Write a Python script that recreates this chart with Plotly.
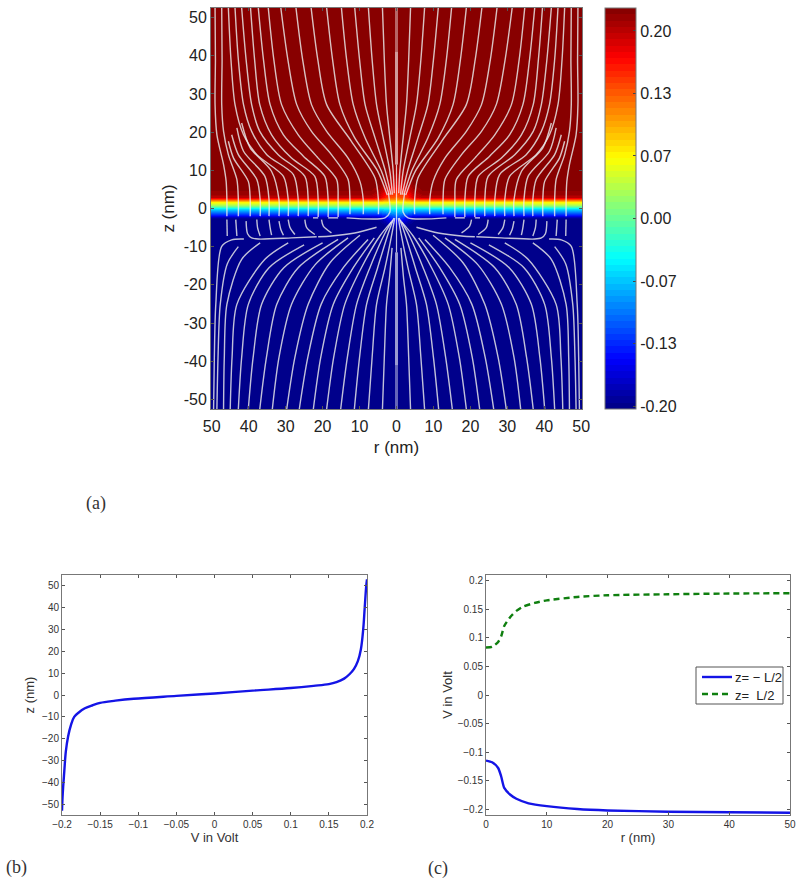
import plotly.graph_objects as go

FONT = "Liberation Sans"
TXT = "#222222"

# heatmap table, right half only (mirrored below)
HEAT_R = [0, 1.5, 3, 4.5, 7, 50]
HEAT_Z = [-52.5, -6, -4, -3, -2.4, -1.6, -0.8, -0.26, 0.6, 1.6, 2.4, 3.1, 4, 5, 6.5, 8.5, 12, 52.5]
HEAT_V = [
    [-.203, -.203, -.203, -.203, -.203, -.203],
    [-.200, -.200, -.203, -.203, -.203, -.203],
    [-.175, -.180, -.195, -.200, -.203, -.203],
    [-.145, -.155, -.180, -.195, -.200, -.200],
    [-.125, -.135, -.165, -.185, -.195, -.195],
    [-.100, -.110, -.130, -.140, -.140, -.140],
    [-.075, -.080, -.090, -.100, -.100, -.100],
    [-.050, -.052, -.055, -.060, -.060, -.060],
    [0.000, 0.002, 0.005, 0.010, 0.010, 0.010],
    [0.060, 0.062, 0.065, 0.070, 0.070, 0.070],
    [0.110, 0.115, 0.130, 0.145, 0.150, 0.150],
    [0.135, 0.140, 0.160, 0.185, 0.200, 0.200],
    [0.150, 0.155, 0.175, 0.198, 0.215, 0.215],
    [0.165, 0.170, 0.190, 0.210, 0.220, 0.220],
    [0.185, 0.190, 0.205, 0.218, 0.224, 0.224],
    [0.200, 0.205, 0.215, 0.224, 0.224, 0.224],
    [0.215, 0.220, 0.224, 0.224, 0.224, 0.224],
    [0.224, 0.224, 0.224, 0.224, 0.224, 0.224],
]

# streamlines, right half (r, z) - mirrored when drawn
UPPER_INNER = [
    ([3.8, 3.3, 2.7, 1.8, 0.9, 0.6], [52.5, 39, 27.2, 18.5, 9.8, 4]),
    ([7.6, 6.6, 5.4, 3.6, 1.8, 1.1], [52.5, 39, 27.2, 18.5, 9.8, 3.6]),
    ([11.3, 10, 8.5, 5.8, 3, 1.5], [52.5, 39, 27.2, 18.5, 9.8, 3.6]),
    ([14.9, 13.5, 11.7, 8.5, 4.1, 2], [52.5, 39, 27.2, 18.5, 9.8, 3.6]),
    ([18.9, 17.3, 15.3, 11.3, 5.1, 2.5], [52.5, 39, 27.2, 18.5, 9.8, 3.5]),
]
UPPER_STEMS = [
    ([23.1, 21.3, 18.9, 12.2, 5.8, 4.9, 4.9], [52.5, 39, 27.2, 17.6, 8, 2.3, -1.5]),
    ([27.2, 25.4, 23, 18.9, 13.1, 9.9, 9, 9], [52.5, 39, 27.2, 20.2, 13.2, 7.1, 2.3, -1.5]),
    ([31.3, 29.4, 27, 23, 17.6, 13.1, 12.6, 12.6], [52.5, 39, 27.2, 20.2, 14.1, 7.6, 2.3, -1.5]),
    ([34.7, 33.2, 31.1, 26.6, 21.2, 16.2, 15.8, 15.8], [52.5, 39, 27.2, 19.3, 13.2, 7.6, 2.3, -2.2]),
    ([37.4, 36, 34.2, 30.6, 25.2, 19.4, 18.5, 18.5], [52.5, 39, 27.2, 19.3, 13.7, 8.4, 2.3, -2.2]),
    ([39.5, 38.4, 37, 33.8, 28.4, 22.1, 21.2, 21.2], [52.5, 39, 27.2, 19.3, 13.2, 8.4, 2.3, -2.2]),
    ([41.9, 40.7, 39.2, 37, 32, 24.8, 23.9, 23.9], [52.5, 39, 27.2, 20.2, 14.1, 8.4, 2.3, -2]),
    ([43.7, 42.8, 41.4, 39.2, 35.1, 27.9, 26.6, 26.6], [52.5, 39, 27.2, 20.2, 14.1, 8.9, 2.3, -2]),
    ([45.5, 44.8, 43.7, 41.4, 37.8, 30.6, 29.3, 29.3], [52.5, 39, 27.2, 19.3, 14.1, 8.4, 2.3, -2]),
    ([41.9, 39.6, 33.8, 31.8, 31.8], [22.4, 15.9, 9.7, 2.3, -2]),
    ([43.2, 41.4, 35.6, 34.5, 34.5], [21.1, 15, 8.4, 2.3, -2]),
    ([44.6, 42.8, 37.8, 36.9, 36.9], [19.3, 14.1, 7.6, 2.3, -2]),
    ([45.5, 44.1, 40.1, 39.6, 39.6], [17.6, 13.2, 7.1, 2.3, -2]),
    ([47.3, 47.2, 47.3, 46.8, 45.5, 43.2, 42.8, 42.8], [52.5, 39, 27.2, 20.2, 14.1, 7.6, 2.3, -2]),
    ([49.1, 49, 49.1, 48.6, 46.8, 46.1, 45.9, 45.9], [52.5, 39, 27.2, 19.3, 11.5, 7.1, 2.3, -2]),
]
KINKS = [
    ([2.2, 1.8, 1.8, 3.1, 13.5], [4, 1, -1, -2.45, -2.45]),
    ([15.8, 18.5], [-2.45, -2.45]),
    ([21.2, 22.6], [-2.45, -2.45]),
]
SHORT_LOWER = [
    ([20.3, 19.8, 17.6], [-2.9, -4.6, -6.4]),
    ([24.8, 24.3, 22.1], [-2.9, -5, -6.8]),
    ([29.3, 28.8, 27.5], [-2.9, -5, -6.8]),
    ([31.8, 31.3, 30.6], [-3.3, -5.5, -7]),
    ([34.5, 34.2, 33.8], [-2.9, -5, -7]),
    ([37.8, 37.6, 36.9], [-2.9, -5, -7.2]),
    ([43.5, 43.2], [-2.9, -7.2]),
    ([45.9, 45.8], [-2.9, -7.2]),
    ([5.4, 11.3, 17.6, 21.2], [-4.9, -6.4, -7.2, -7.4]),
    ([21.6, 28.4, 37.4, 39.2, 40.3, 40.7], [-7.4, -7.7, -8, -7.7, -6.6, -3.3]),
]
LOWER_LINES = [
    ([1.2, 1.9, 2.7, 3.3, 3.8], [-10.3, -18.1, -25.1, -39, -52.5]),
    ([0.5, 1.2, 3.1, 5.4, 6.6, 7.6], [-2.5, -6.4, -15.5, -25.1, -39, -52.5]),
    ([0.7, 2.2, 5.1, 8.1, 10, 11.4], [-2.5, -6.4, -15.5, -25.1, -39, -52.5]),
    ([1, 3.3, 7.2, 10.8, 13.3, 15.1], [-3, -6.8, -15.5, -25.1, -39, -52.5]),
    ([1.4, 4.5, 9.5, 14, 17, 18.9], [-3.5, -7.2, -15.5, -25.1, -39, -52.5]),
    ([6, 11.7, 17.1, 20.5, 22.5], [-7.7, -15.5, -25.1, -39, -52.5]),
    ([7.7, 14.4, 20.4, 24, 26.3], [-8.1, -15.5, -25.1, -39, -52.5]),
    ([9.9, 18, 23.9, 27.5, 29.7], [-7, -14.2, -25.1, -39, -52.5]),
    ([13.1, 22, 28.4, 31.8, 33.6], [-7.7, -14.7, -25.1, -39, -52.5]),
    ([15.8, 26.6, 32.4, 35.2, 37], [-8.1, -15.5, -25.1, -39, -52.5]),
    ([20, 30.5, 36.5, 38.8, 40.1], [-9, -15.5, -25.1, -39, -52.5]),
    ([25, 34.5, 40.1, 41.9, 42.8], [-9.5, -15.5, -25.1, -39, -52.5]),
    ([29.3, 35.6, 43.2, 44.5, 45], [-9, -13.3, -25.1, -39, -52.5]),
    ([36.9, 41.9, 45.9, 46.6, 46.8], [-9, -13.3, -25.1, -39, -52.5]),
    ([42.8, 45.8, 47.7, 48.3, 48.6], [-10, -14.5, -25.1, -39, -52.5]),
    ([41.3, 44.6, 47.3, 48.9, 49.3, 49.5], [-8, -8.2, -9.9, -25.1, -39, -52.5]),
]

# panel (b)
V_B = [-0.2, -0.199, -0.197, -0.195, -0.192, -0.188, -0.184, -0.178, -0.17, -0.16, -0.15, -0.13, -0.106, -0.05, 0, 0.05, 0.1, 0.13, 0.15, 0.16, 0.17, 0.177, 0.183, 0.188, 0.192, 0.195, 0.197, 0.199, 0.2]
Z_B = [-53, -45, -35, -26, -19, -13.5, -10, -8, -6.1, -4.7, -3.6, -2.6, -1.7, -0.4, 0.7, 2, 3.2, 4.2, 5, 5.9, 7.5, 9.5, 12, 15.5, 21, 30, 40, 50, 53]

# panel (c)
R_C = [0, 1, 2, 2.5, 3, 4, 5, 7, 10, 15, 20, 30, 40, 50]
V_LOW = [-0.115, -0.118, -0.128, -0.143, -0.163, -0.175, -0.182, -0.19, -0.195, -0.2, -0.2025, -0.2047, -0.2058, -0.2065]
R_C2 = [0, 1, 2, 2.5, 3, 4, 5, 6, 8, 10, 15, 20, 30, 40, 50]
V_HIGH = [0.0834, 0.0845, 0.093, 0.103, 0.121, 0.137, 0.1475, 0.1545, 0.1615, 0.166, 0.172, 0.175, 0.1767, 0.178, 0.1785]
LEGEND_LOW = "z= \u2212 L/2"
LEGEND_HIGH = "z=  L/2"

BLUE = "#1414e6"
GREEN = "#0f7f0f"

JET = [(0, (0, 0, 131)), (0.125, (0, 0, 255)), (0.375, (0, 255, 255)),
       (0.625, (255, 255, 0)), (0.875, (255, 0, 0)), (1, (128, 0, 0))]


def jet_color(t):
    for (a, ca), (b, cb) in zip(JET, JET[1:]):
        if t <= b:
            f = (t - a) / (b - a)
            return "rgb(%d,%d,%d)" % tuple(round(p + f * (q - p)) for p, q in zip(ca, cb))
    return "rgb(128,0,0)"


# 64 flat bands like matlab's jet
jet64 = []
for i in range(64):
    c = jet_color((i + 0.5) / 64)
    jet64 += [[i / 64, c], [(i + 1) / 64, c]]


def xd(a, b):
    return [a / 800, b / 800]


def yd(top, bottom):
    return [1 - bottom / 883, 1 - top / 883]


fig = go.Figure()

# mirror the table to both sides of r=0
heat_x = [-r for r in HEAT_R[:0:-1]] + HEAT_R
heat_v = [row[:0:-1] + row for row in HEAT_V]
fig.add_trace(go.Heatmap(
    x=heat_x, y=HEAT_Z, z=heat_v, zsmooth="best", colorscale=jet64, zmin=-0.2032, zmax=0.2245,
    showscale=True, xaxis="x", yaxis="y",
    colorbar=dict(
        x=605 / 800, xanchor="left", xpad=0, y=1 - 8 / 883, yanchor="top", ypad=0,
        thickness=31, thicknessmode="pixels", len=401 / 883, lenmode="fraction",
        tickvals=[0.2, 0.1333, 0.0667, 0, -0.0667, -0.1333, -0.2],
        ticktext=["0.20", "0.13", "0.07", "0.00", "-0.07", "-0.13", "-0.20"],
        ticks="inside", ticklen=3, tickcolor="#444444", outlinecolor="#777777", outlinewidth=1,
        tickfont=dict(family=FONT, size=16, color=TXT),
    ),
))

for r, z in UPPER_INNER + UPPER_STEMS + KINKS + SHORT_LOWER + LOWER_LINES:
    for side in (1, -1):
        fig.add_trace(go.Scatter(
            x=[side * v for v in r], y=z, mode="lines", showlegend=False, hoverinfo="skip",
            line=dict(color="rgba(235,235,235,0.82)", width=1.4, shape="spline", smoothing=0.8),
        ))

# centre line, thick and see-through
fig.add_trace(go.Scatter(x=[0, 0], y=[52.5, 11.5], mode="lines", showlegend=False,
                         line=dict(color="rgba(255,255,255,0.4)", width=3)))
fig.add_trace(go.Scatter(x=[0, 0], y=[41, 11.5], mode="lines", showlegend=False,
                         line=dict(color="rgba(255,255,255,0.35)", width=3)))
fig.add_trace(go.Scatter(x=[0, 0], y=[11.5, -11.5], mode="lines", showlegend=False,
                         line=dict(color="rgba(255,255,255,0.75)", width=1.2)))
fig.add_trace(go.Scatter(x=[0, 0], y=[-11.5, -52.5], mode="lines", showlegend=False,
                         line=dict(color="rgba(255,255,255,0.4)", width=3)))
fig.add_trace(go.Scatter(x=[0, 0], y=[-11.5, -41], mode="lines", showlegend=False,
                         line=dict(color="rgba(255,255,255,0.35)", width=3)))

fig.add_trace(go.Scatter(x=V_B, y=Z_B, mode="lines", showlegend=False, xaxis="x2", yaxis="y2",
                         line=dict(color=BLUE, width=2.4, shape="spline", smoothing=1)))
fig.add_trace(go.Scatter(x=R_C, y=V_LOW, mode="lines", name=LEGEND_LOW, showlegend=False, xaxis="x3", yaxis="y3",
                         line=dict(color=BLUE, width=2.4, shape="spline", smoothing=0.6)))
fig.add_trace(go.Scatter(x=R_C2, y=V_HIGH, mode="lines", name=LEGEND_HIGH, showlegend=False, xaxis="x3", yaxis="y3",
                         line=dict(color=GREEN, width=2.4, dash="6px,4px", shape="spline", smoothing=0.6)))

big = dict(family=FONT, size=16, color=TXT)
small = dict(family=FONT, size=10, color="#333333")
frame = dict(showline=True, linecolor="#777777", linewidth=1, mirror="ticks", ticks="inside",
             tickcolor="#555555", showgrid=False, zeroline=False)


def px(x, y):
    return x / 800, 1 - y / 883


# matlab legend box is tighter than plotly's own, so draw it by hand
shapes = [
    dict(type="rect", xref="paper", yref="paper", x0=px(696, 667)[0], y0=px(696, 667)[1],
         x1=px(783, 704)[0], y1=px(783, 704)[1], fillcolor="white", line=dict(color="#555555", width=1)),
    dict(type="line", xref="paper", yref="paper", x0=px(702, 677)[0], y0=px(702, 677)[1],
         x1=px(732, 677)[0], y1=px(732, 677)[1], line=dict(color=BLUE, width=2.4)),
    dict(type="line", xref="paper", yref="paper", x0=px(702, 694)[0], y0=px(702, 694)[1],
         x1=px(732, 694)[0], y1=px(732, 694)[1], line=dict(color=GREEN, width=2.4, dash="6px,4px")),
]

notes = [
    dict(text=t, x=px(x, y)[0], y=px(x, y)[1], xref="paper", yref="paper", showarrow=False,
         xanchor="center", yanchor="middle",
         font=dict(family="Liberation Serif", size=18, color="#333333"))
    for t, x, y in [("(a)", 96, 503), ("(b)", 16, 867), ("(c)", 438, 868)]
]
for t, y in [(LEGEND_LOW, 677), (LEGEND_HIGH, 695)]:
    notes.append(dict(text=t, x=px(734, y)[0], y=px(734, y)[1], xref="paper", yref="paper", showarrow=False,
                      xanchor="left", yanchor="middle", xshift=-1,
                      font=dict(family=FONT, size=13, color="#222222")))

fig.update_layout(
    width=800, height=883, margin=dict(l=0, r=0, t=0, b=0, autoexpand=False), autosize=False,
    paper_bgcolor="white", plot_bgcolor="white", showlegend=False,
    shapes=shapes, annotations=notes,
    xaxis=dict(domain=xd(211, 582), range=[-50.2, 50.2], tickvals=list(range(-50, 51, 10)),
               ticktext=["50", "40", "30", "20", "10", "0", "10", "20", "30", "40", "50"],
               tickfont=big, ticklen=3, ticklabelstandoff=3, title=dict(text="r (nm)", font=dict(family=FONT, size=17, color=TXT), standoff=6),
               **frame),
    yaxis=dict(domain=yd(8, 409), range=[-52.5, 52.5], tickvals=list(range(-50, 51, 10)),
               ticktext=[str(v) for v in range(-50, 51, 10)],
               tickfont=big, ticklen=3, title=dict(text="z (nm)", font=dict(family=FONT, size=17, color=TXT), standoff=4),
               **frame),
    xaxis2=dict(domain=xd(62, 367), range=[-0.2, 0.2], anchor="y2",
                tickvals=[-0.2, -0.15, -0.1, -0.05, 0, 0.05, 0.1, 0.15, 0.2],
                ticktext=["\u22120.2", "\u22120.15", "\u22120.1", "\u22120.05", "0", "0.05", "0.1", "0.15", "0.2"],
                tickfont=small, ticklen=3, title=dict(text="V in Volt", font=dict(family=FONT, size=13, color="#333333"), standoff=3),
                **frame),
    yaxis2=dict(domain=yd(575, 815), range=[-55, 55], anchor="x2", tickvals=list(range(-50, 51, 10)),
                ticktext=[str(v).replace("-", "\u2212") for v in range(-50, 51, 10)],
                tickfont=small, ticklen=3, title=dict(text="z (nm)", font=dict(family=FONT, size=13, color="#333333"), standoff=4),
                **frame),
    xaxis3=dict(domain=xd(486, 790), range=[0, 50], anchor="y3", tickvals=[0, 10, 20, 30, 40, 50],
                tickfont=small, ticklen=3, title=dict(text="r (nm)", font=dict(family=FONT, size=13, color="#333333"), standoff=3),
                **frame),
    yaxis3=dict(domain=yd(575, 815), range=[-0.2105, 0.2105], anchor="x3",
                tickvals=[-0.2, -0.15, -0.1, -0.05, 0, 0.05, 0.1, 0.15, 0.2],
                ticktext=["\u22120.2", "\u22120.15", "\u22120.1", "\u22120.05", "0", "0.05", "0.1", "0.15", "0.2"],
                tickfont=small, ticklen=3, title=dict(text="V in Volt", font=dict(family=FONT, size=13, color="#333333"), standoff=2),
                **frame),
)

fig.write_html("out.html", config={"displayModeBar": False}, post_script="document.body.style.margin='0';")
